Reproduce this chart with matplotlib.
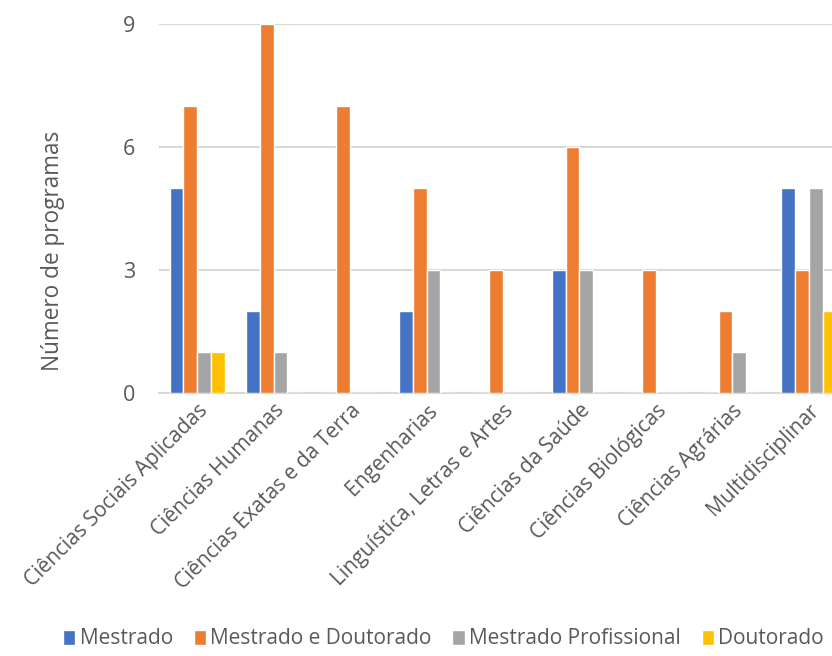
import matplotlib
matplotlib.use("Agg")
import matplotlib.pyplot as plt
import numpy as np

categories = [
    "Ciências Sociais Aplicadas",
    "Ciências Humanas",
    "Ciências Exatas e da Terra",
    "Engenharias",
    "Linguística, Letras e Artes",
    "Ciências da Saúde",
    "Ciências Biológicas",
    "Ciências Agrárias",
    "Multidisciplinar",
]
series_names = ["Mestrado", "Mestrado e Doutorado", "Mestrado Profissional", "Doutorado"]
mestrado = [5, 2, 0, 2, 0, 3, 0, 0, 5]
mestrado_doutorado = [7, 9, 7, 5, 3, 6, 3, 2, 3]
mestrado_profissional = [1, 1, 0, 3, 0, 3, 0, 1, 5]
doutorado = [1, 0, 0, 0, 0, 0, 0, 0, 2]
colors = ["#4472C4", "#ED7D31", "#A5A5A5", "#FFC000"]
yticks = [0, 3, 6, 9]

plt.rcParams["font.family"] = ["Open Sans", "DejaVu Sans"]
text_color = "#595959"

fig = plt.figure(figsize=(8.32, 6.56), dpi=100)
W, H = 832, 656
left, right = 159, 847
bottom, top = 393, 24
ax = fig.add_axes([left / W, 1 - bottom / H, (right - left) / W, (bottom - top) / H])

x = np.arange(len(categories))
bw = 0.18
series = [mestrado, mestrado_doutorado, mestrado_profissional, doutorado]
for i, (vals, name, c) in enumerate(zip(series, series_names, colors)):
    ax.bar(x + (i - 1.5) * bw, vals, width=bw, color=c, edgecolor="white",
           linewidth=1.0, label=name, zorder=3)

ax.set_xlim(-0.5, len(categories) - 0.5)
ax.set_ylim(0, 9)
ax.set_yticks(yticks)
ax.set_yticklabels([str(v) for v in yticks], fontsize=15.5, color=text_color)
ax.tick_params(axis="y", length=0, pad=17)
ax.tick_params(axis="x", length=0, pad=5)
ax.set_xticks(x)
ax.set_xticklabels(categories, rotation=45, ha="right", rotation_mode="anchor",
                   fontsize=15, color=text_color)
ax.yaxis.grid(True, color="#D9D9D9", linewidth=1.5, zorder=0)
for s in ["top", "right", "left"]:
    ax.spines[s].set_visible(False)
ax.spines["bottom"].set_color("#D9D9D9")
ax.spines["bottom"].set_linewidth(1.5)
ax.set_ylabel("Número de programas", fontsize=16.3, color=text_color)
ax.yaxis.set_label_coords(-0.136, 0.385)

handles, labels = ax.get_legend_handles_labels()
leg = fig.legend(handles, labels, loc="center", bbox_to_anchor=(0.533, 1 - 639 / H),
                 ncol=4, frameon=False, fontsize=15, handlelength=0.6,
                 handleheight=0.7, handletextpad=0.2, columnspacing=1.0)
for t in leg.get_texts():
    t.set_color(text_color)

fig.savefig("out.png", dpi=100)
